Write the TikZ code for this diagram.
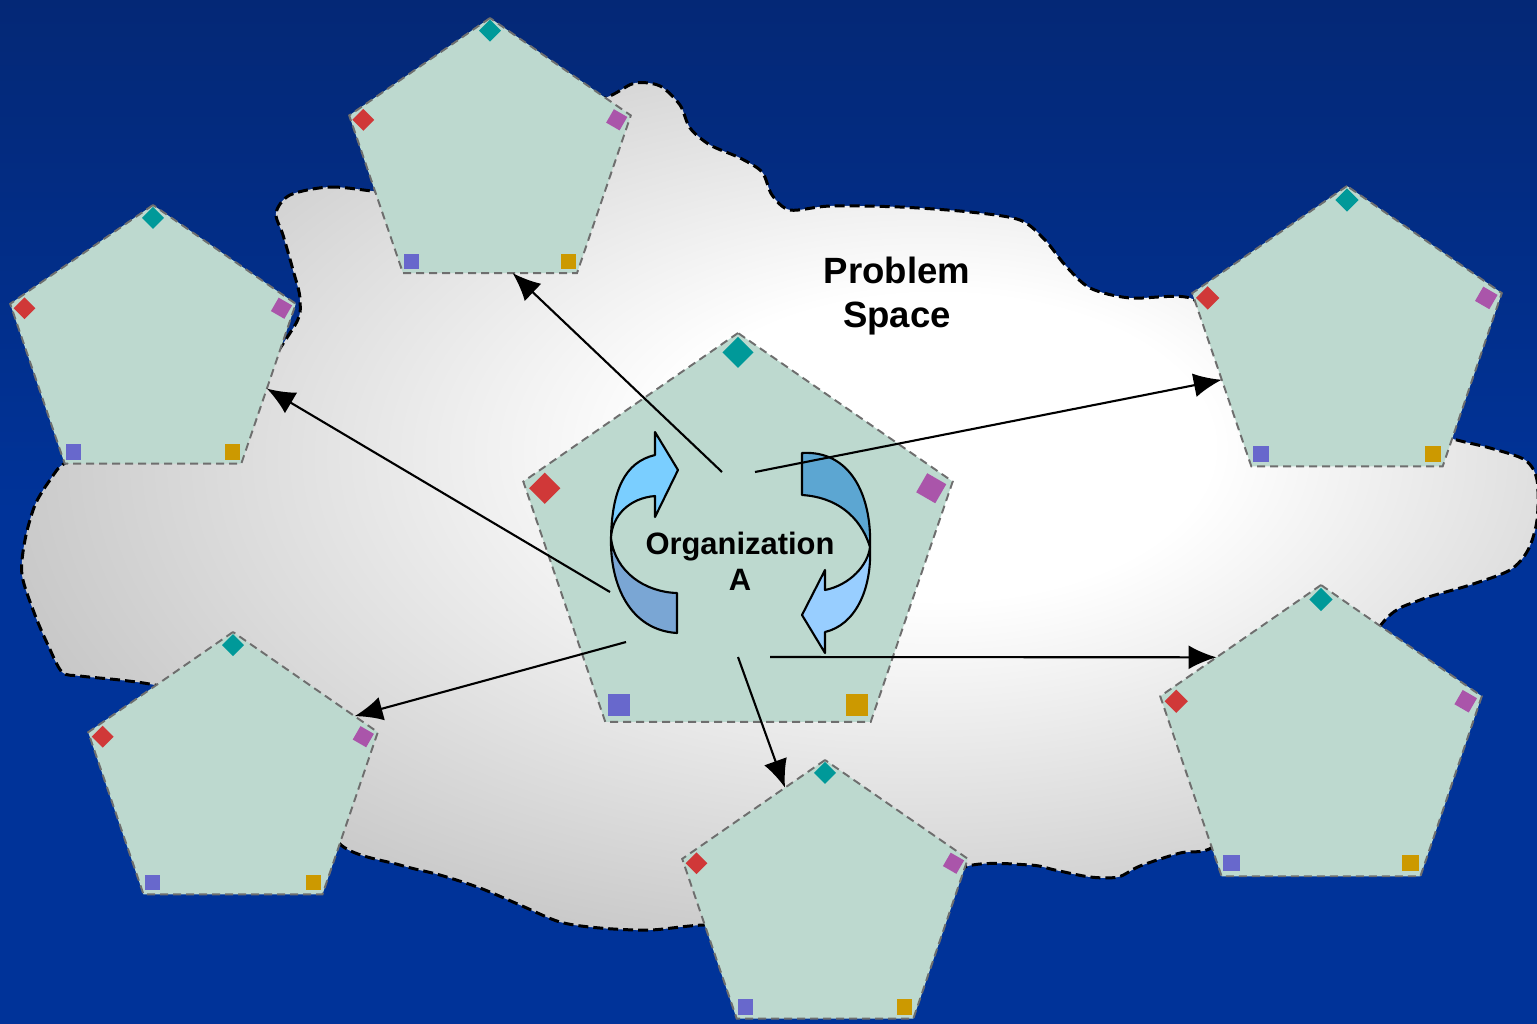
\documentclass[tikz,border=0pt]{standalone}
\usepackage{fontspec}
\setmainfont{Liberation Sans}
\usetikzlibrary{arrows.meta,positioning,shapes.geometric,calc}

\definecolor{bgtop}{RGB}{4,40,118}
\definecolor{bgbot}{RGB}{0,51,153}
\definecolor{cloudgray}{RGB}{172,172,172}
\definecolor{pentfill}{RGB}{189,217,207}
\definecolor{pentline}{RGB}{110,110,110}
\definecolor{chipteal}{RGB}{0,153,153}
\definecolor{chipred}{RGB}{208,56,56}
\definecolor{chippurple}{RGB}{170,85,170}
\definecolor{chipblue}{RGB}{104,104,204}
\definecolor{chipgold}{RGB}{204,153,0}
\definecolor{cyclelight}{RGB}{122,206,255}
\definecolor{cyclesteel}{RGB}{122,166,212}
\definecolor{cycledeep}{RGB}{92,166,210}
\definecolor{cyclepale}{RGB}{152,206,255}

\pgfdeclareradialshading{cloudshade}{\pgfpoint{6bp}{4bp}}{color(0bp)=(white); color(9bp)=(white); color(40bp)=(cloudgray); color(70bp)=(cloudgray)}

\tikzset{
  pent/.style={regular polygon, regular polygon sides=5, xscale=1.05,
    fill=pentfill, draw=pentline, line width=0.55pt,
    dash pattern=on 0.8mm off 0.5mm, inner sep=0pt, outer sep=0pt},
  chip/.style={rectangle, draw=none, inner sep=0pt, outer sep=0pt},
  cycle/.style={draw=black, line width=0.6pt, line join=round},
  link/.style={-{Latex[length=2.8mm,width=2.4mm]}, line width=0.6pt, draw=black}
}

% five coloured chips inside a pentagon
\newcommand{\pentchips}[2]{%
  \node[chip, fill=chipteal, minimum size=#2, rotate=45] (#1-c1) at ($(#1.center)!0.91!(#1.corner 1)$) {};
  \node[chip, fill=chipred, minimum size=#2, rotate=45] (#1-c2) at ($(#1.center)!0.9!(#1.corner 2)$) {};
  \node[chip, fill=chipblue, minimum size=#2] (#1-c3) at ($(#1.center)!0.9!(#1.corner 3)$) {};
  \node[chip, fill=chipgold, minimum size=#2] (#1-c4) at ($(#1.center)!0.9!(#1.corner 4)$) {};
  \node[chip, fill=chippurple, minimum size=#2, rotate=-30] (#1-c5) at ($(#1.center)!0.9!(#1.corner 5)$) {};
}

\begin{document}
\begin{tikzpicture}[x=0.1mm,y=-0.1mm]
  \useasboundingbox (0,0) rectangle (1537,1023);
  \clip (0,0) rectangle (1537,1023);
  \fill[top color=bgtop, bottom color=bgbot, middle color=bgbot] (0,0) rectangle (1537,1023);

  % problem space
  \draw[shading=cloudshade, draw=black, line width=0.85pt, dash pattern=on 1mm off 0.5mm]
    plot[smooth cycle, tension=0.5] coordinates {
      (290,195) (330,187) (380,192) (450,200) (560,120) (612,95) (635,83) (660,86)
      (680,105) (690,128) (710,145) (740,158) (762,172) (772,195) (790,210) (830,206)
      (900,207) (970,212) (1020,220) (1045,240) (1065,265) (1090,288) (1130,298)
      (1190,298) (1230,330) (1350,400) (1440,435) (1490,448) (1525,460) (1537,480)
      (1537,520) (1528,550) (1510,570) (1470,585) (1420,600) (1385,620) (1330,700)
      (1260,800) (1213,847) (1180,853) (1140,866) (1118,877) (1090,877) (1055,870)
      (1030,865) (968,866) (900,900) (780,925) (703,925) (650,930) (600,928) (560,922)
      (520,905) (480,888) (440,875) (400,865) (341,845) (300,780) (220,700) (155,685)
      (120,680) (80,676) (62,672) (48,645) (35,615) (22,575) (25,540) (35,505) (50,480)
      (65,463) (100,455) (220,420) (292,330) (300,300) (293,270) (283,235) (276,213)};

  \node[pent, minimum size=43mm] (orga) at (738,548) {};
  \node[pent, minimum size=28.2mm] (ptop) at (490,159) {};
  \node[pent, minimum size=28.6mm] (pleft) at (153,348) {};
  \node[pent, minimum size=31mm] (pupright) at (1347,341) {};
  \node[pent, minimum size=32.2mm] (plowright) at (1321,746) {};
  \node[pent, minimum size=29mm] (plowleft) at (233,777) {};
  \node[pent, minimum size=28.6mm] (pbottom) at (825,903) {};

  \pentchips{orga}{2.2mm}
  \pentchips{ptop}{1.55mm}
  \pentchips{pleft}{1.55mm}
  \pentchips{pupright}{1.65mm}
  \pentchips{plowright}{1.65mm}
  \pentchips{plowleft}{1.55mm}
  \pentchips{pbottom}{1.55mm}

  % cycle arrows
  \draw[cycle, fill=cyclesteel] (611,538) .. controls (610,585) and (630,630) .. (677,633)
    -- (677,593) .. controls (645,592) and (615,572) .. cycle;
  \draw[cycle, fill=cyclelight] (611,538) .. controls (612,490) and (625,462) .. (655,455)
    -- (655,432) -- (678,470) -- (655,517) -- (655,496)
    .. controls (630,498) and (612,515) .. cycle;
  \draw[cycle, fill=cycledeep] (802,453) .. controls (850,450) and (872,495) .. (870,547)
    .. controls (860,515) and (835,497) .. (802,495) -- cycle;
  \draw[cycle, fill=cyclepale] (870,547) .. controls (872,590) and (855,625) .. (825,632)
    -- (825,653) -- (802,615) -- (825,570) -- (825,590)
    .. controls (850,585) and (868,565) .. cycle;

  \node[font=\bfseries\fontsize{10.4}{12.3}\selectfont, align=center] (space) at (897,296) {Problem\\Space};
  \node[font=\bfseries\fontsize{8.8}{10.2}\selectfont, align=center] (orgname) at (740,561) {Organization\\A};

  \coordinate (t1) at (722,472);
  \coordinate (t2) at (610,592);
  \coordinate (t3) at (755,472);
  \coordinate (t4) at (626,642);
  \coordinate (t5) at (738,657);
  \coordinate (t6) at (770,657);

  \draw[link] (t1) -- ($(ptop.corner 3)!0.63!(ptop.corner 4)$);
  \draw[link] (t2) -- ($(pleft.corner 4)!0.47!(pleft.corner 5)$);
  \draw[link] (t3) -- ($(pupright.corner 2)!0.5!(pupright.corner 3)$);
  \draw[link] (t4) -- ($(plowleft.corner 5)!0.16!(plowleft.corner 1)$);
  \draw[link] (t5) -- ($(pbottom.corner 1)!0.28!(pbottom.corner 2)$);
  \draw[link] (t6) -- ($(plowright.corner 2)!0.35!(plowright.corner 1)$);
\end{tikzpicture}
\end{document}
